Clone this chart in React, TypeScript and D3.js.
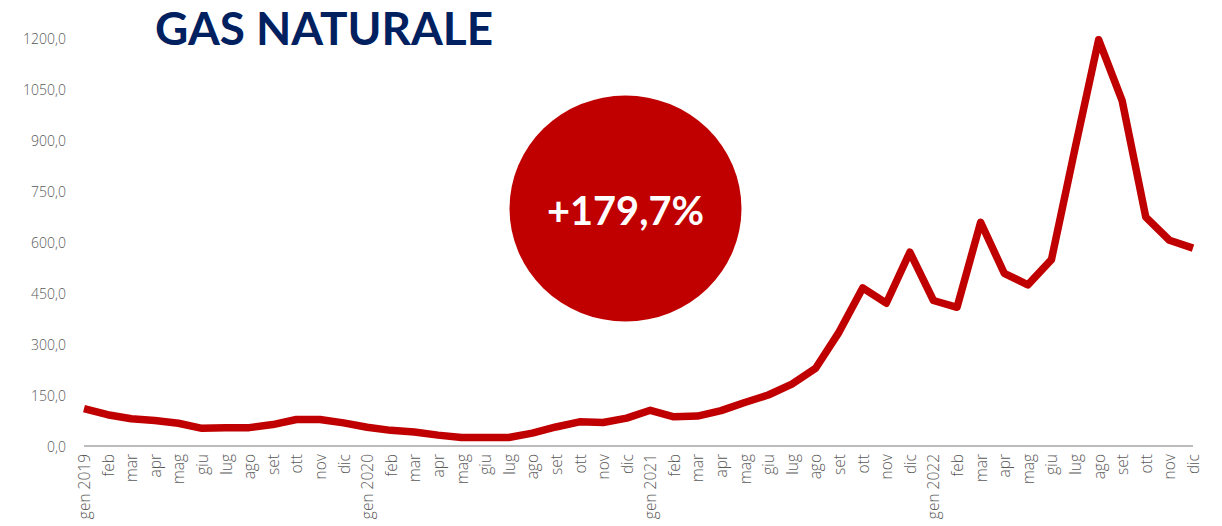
import React from "react";
import * as d3 from "d3";

const monthLabels: string[] = [
  "gen 2019", "feb", "mar", "apr", "mag", "giu", "lug", "ago", "set", "ott", "nov", "dic",
  "gen 2020", "feb", "mar", "apr", "mag", "giu", "lug", "ago", "set", "ott", "nov", "dic",
  "gen 2021", "feb", "mar", "apr", "mag", "giu", "lug", "ago", "set", "ott", "nov", "dic",
  "gen 2022", "feb", "mar", "apr", "mag", "giu", "lug", "ago", "set", "ott", "nov", "dic",
];

const gasValues: number[] = [
  110, 92, 80, 75, 67, 52, 54, 54, 63, 78, 78, 68,
  55, 46, 41, 32, 25, 25, 25, 38, 56, 71, 69, 82,
  105, 86, 88, 104, 128, 150, 182, 228, 335, 465, 420, 570,
  428, 408, 658, 508, 474, 548, 875, 1195, 1015, 673, 605, 582,
];

const yTicks: number[] = [0, 150, 300, 450, 600, 750, 900, 1050, 1200];

const titleText = "GAS NATURALE";
const badgeText = "+179,7%";

const W = 1222;
const H = 526;

export default function App() {
  const idx = monthLabels.map((_, i) => String(i));
  const x = d3.scalePoint<string>().domain(idx).range([84, 1193]);
  const y = d3.scaleLinear().domain([0, 1200]).range([446, 38]);
  const line = d3
    .line<number>()
    .x((_, i) => x(String(i)) as number)
    .y((d) => y(d));
  const fmt = (v: number) => v.toFixed(1).replace(".", ",");

  return (
    <svg
      width={W}
      height={H}
      style={{ position: "absolute", left: 0, top: 0, background: "#fff" }}
      fontFamily="'Open Sans', sans-serif"
    >
      <rect x={0} y={0} width={W} height={H} fill="#fff" />
      {yTicks.map((t) => (
        <text
          key={t}
          x={66}
          y={y(t)}
          textAnchor="end"
          dominantBaseline="central"
          fontSize={14}
          fontWeight={300}
          fill="#595959"
        >
          {fmt(t)}
        </text>
      ))}
      <line x1={84} x2={1193} y1={y(0)} y2={y(0)} stroke="#A6A6A6" strokeWidth={1.5} />
      {monthLabels.map((m, i) => {
        const px = x(String(i)) as number;
        return (
          <text
            key={i}
            transform={`translate(${px},${454}) rotate(-90)`}
            textAnchor="end"
            dominantBaseline="central"
            fontSize={15.5}
            fontWeight={300}
            fill="#595959"
          >
            {m}
          </text>
        );
      })}
      <path
        d={line(gasValues) || ""}
        fill="none"
        stroke="#C00000"
        strokeWidth={7.5}
        strokeLinejoin="round"
        strokeLinecap="butt"
      />
      <ellipse cx={625.5} cy={208.5} rx={116} ry={113} fill="#C00000" />
      <text
        x={625.5}
        y={225}
        textAnchor="middle"
        fontFamily="Lato, sans-serif"
        fontWeight={700}
        fontSize={40}
        fill="#fff"
        textLength={157}
        lengthAdjust="spacingAndGlyphs"
      >
        {badgeText}
      </text>
      <text
        x={155}
        y={45}
        fontFamily="Lato, sans-serif"
        fontWeight={700}
        fontSize={46}
        fill="#002060"
        textLength={338}
        lengthAdjust="spacingAndGlyphs"
      >
        {titleText}
      </text>
    </svg>
  );
}
